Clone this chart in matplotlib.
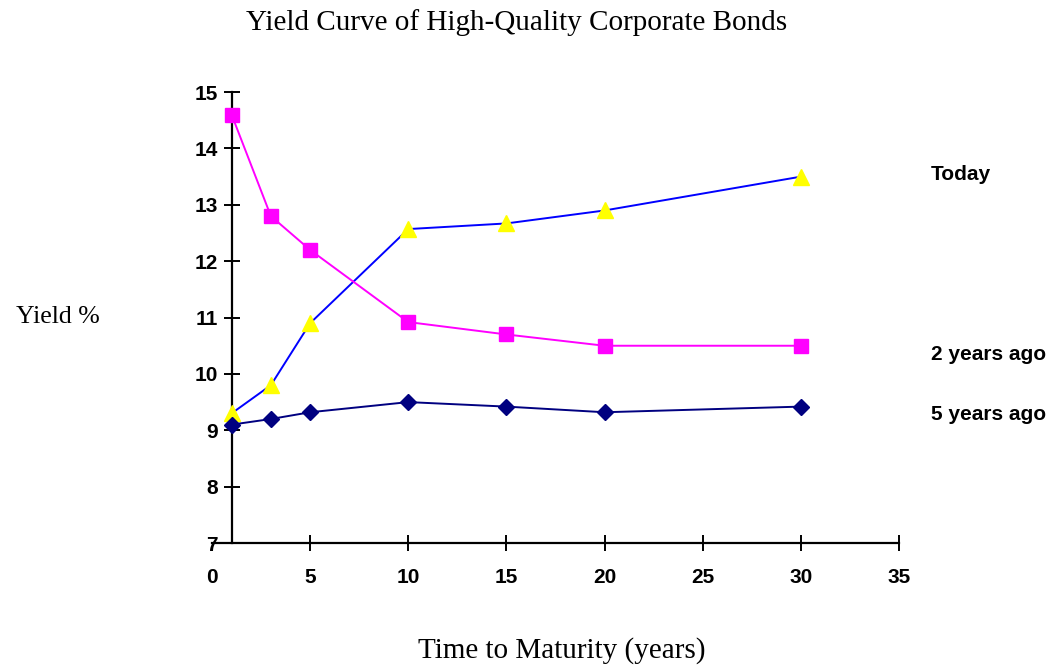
import matplotlib.pyplot as plt

# Bond yields (%) by time to maturity (years)
maturity = [1, 3, 5, 10, 15, 20, 30]
today = [9.3, 9.8, 10.9, 12.57, 12.67, 12.9, 13.5]
two_years_ago = [14.6, 12.8, 12.2, 10.92, 10.7, 10.5, 10.5]
five_years_ago = [9.1, 9.2, 9.32, 9.5, 9.42, 9.32, 9.42]

fig = plt.figure(figsize=(10.61, 6.67), dpi=100)
ax = fig.add_axes([0.1998, 0.1859, 0.6475, 0.676])

ax.plot(maturity, today, color='#0000FF', lw=1.4, marker='^', ms=11,
        mfc='#FFFF00', mec='#FFFF00', clip_on=False, zorder=3)
ax.plot(maturity, two_years_ago, color='#FF00FF', lw=1.4, marker='s', ms=10,
        mfc='#FF00FF', mec='#FF00FF', clip_on=False, zorder=3)
ax.plot(maturity, five_years_ago, color='#000080', lw=1.4, marker='D', ms=8,
        mfc='#000080', mec='#000080', clip_on=False, zorder=3)

ax.set_xlim(0, 35)
ax.set_ylim(7, 15)
ax.set_xticks(range(0, 36, 5))
ax.set_yticks(range(7, 16))

# y axis crosses the x axis at 1 year
for side in ['top', 'right']:
    ax.spines[side].set_visible(False)
ax.spines['left'].set_position(('data', 1))
ax.spines['left'].set_linewidth(1.6)
ax.spines['bottom'].set_linewidth(1.6)

ax.tick_params(direction='inout', length=12, width=1.4, labelsize=15)
ax.tick_params(axis='x', pad=12)
ax.tick_params(axis='y', pad=4)
for lbl in ax.get_xticklabels() + ax.get_yticklabels():
    lbl.set_fontweight('bold')
    lbl.set_fontfamily('Liberation Sans')
# no tick mark at 0, only its label
ax.xaxis.get_major_ticks()[0].tick1line.set_visible(False)

# series names at the right
series_names = ['Today', '2 years ago', '5 years ago']
name_rows = [175, 355, 415]
for name, row in zip(series_names, name_rows):
    fig.text(931 / 1061, 1 - row / 667, name, fontsize=15, fontweight='bold',
             family='Liberation Sans', va='center', ha='left')

fig.text(517 / 1061, 1 - 23 / 667, 'Yield Curve of High-Quality Corporate Bonds',
         fontsize=21, family='Liberation Serif', ha='center', va='center')
fig.text(58 / 1061, 1 - 317 / 667, 'Yield %', fontsize=18.5,
         family='Liberation Serif', ha='center', va='center')
fig.text(562 / 1061, 1 - 651 / 667, 'Time to Maturity (years)', fontsize=21,
         family='Liberation Serif', ha='center', va='center')

fig.savefig('out.png', dpi=100)
